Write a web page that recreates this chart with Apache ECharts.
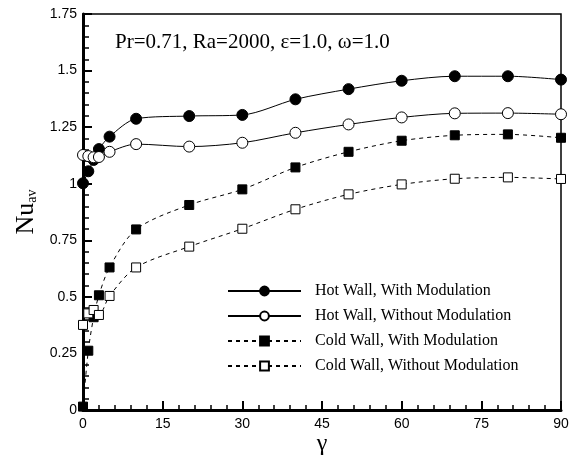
<!DOCTYPE html>
<html style="height: 100%">
<head>
<meta charset="utf-8">
</head>
<body style="height: 100%; margin: 0; background: #fff">
<div id="container" style="width: 573px; height: 459px"></div>
<script src="https://cdn.jsdelivr.net/npm/echarts@6/dist/echarts.min.js"></script>
<script type="text/javascript">
// gamma values (x) and Nu_av for the four curves
var gamma = [0, 1, 2, 3, 5, 10, 20, 30, 40, 50, 60, 70, 80, 90];
var hotWith = [1.002, 1.055, 1.105, 1.153, 1.208, 1.287, 1.299, 1.304, 1.373, 1.418, 1.455, 1.475, 1.475, 1.46];
var hotWithout = [1.127, 1.122, 1.117, 1.118, 1.141, 1.175, 1.164, 1.181, 1.225, 1.262, 1.293, 1.311, 1.312, 1.307];
var coldWith = [0.015, 0.262, 0.41, 0.507, 0.63, 0.798, 0.906, 0.975, 1.072, 1.141, 1.19, 1.214, 1.218, 1.203];
var coldWithout = [0.376, 0.427, 0.442, 0.42, 0.504, 0.63, 0.722, 0.801, 0.887, 0.953, 0.997, 1.022, 1.028, 1.021];
var names = ['Hot Wall, With Modulation', 'Hot Wall, Without Modulation',
             'Cold Wall, With Modulation', 'Cold Wall, Without Modulation'];

function pairs(ys) {
    return gamma.map(function (g, i) { return [g, ys[i]]; });
}

function makeSeries(name, ys, symbol, size, filled, dashed) {
    return {
        name: name,
        type: 'line',
        data: pairs(ys),
        smooth: 0.3,
        clip: false,
        symbol: symbol,
        symbolSize: size,
        showAllSymbol: true,
        lineStyle: { color: '#000', width: 1, type: dashed ? [4, 4] : 'solid' },
        itemStyle: { color: filled ? '#000' : '#fff', borderColor: '#000', borderWidth: 1 },
        emphasis: { disabled: true }
    };
}

var dom = document.getElementById('container');
var myChart = echarts.init(dom);
var option = {
    animation: false,
    backgroundColor: '#fff',
    title: {
        text: 'Pr=0.71, Ra=2000, ε=1.0, ω=1.0',
        left: 110,
        top: 27,
        textStyle: { fontFamily: 'Liberation Serif', fontWeight: 'normal', fontSize: 21, color: '#000' }
    },
    grid: {
        left: 83, right: 12, top: 14, bottom: 49,
        outerBoundsMode: 'none',
        containLabel: false,
        show: true, borderColor: '#000', borderWidth: 1.5
    },
    legend: {
        orient: 'vertical',
        left: 222,
        top: 278,
        itemWidth: 73,
        itemHeight: 11,
        itemGap: 9,
        data: names,
        textStyle: { fontFamily: 'Liberation Serif', fontSize: 16, color: '#000', lineHeight: 16, padding: [0, 0, 0, 9] }
    },
    xAxis: {
        type: 'value',
        min: 0, max: 90, interval: 15,
        name: 'γ',
        nameLocation: 'middle',
        nameGap: 22,
        nameMoveOverlap: false,
        nameTextStyle: { fontFamily: 'Liberation Serif', fontSize: 24, color: '#000' },
        axisLine: { lineStyle: { color: '#000', width: 3 } },
        axisTick: { inside: true, length: 9, lineStyle: { color: '#000', width: 2 } },
        minorTick: { show: true, splitNumber: 5, length: 5, lineStyle: { color: '#000', width: 1.5 } },
        axisLabel: { fontFamily: 'Liberation Sans', fontSize: 14, color: '#000', margin: 7 },
        splitLine: { show: false }
    },
    yAxis: {
        type: 'value',
        min: 0, max: 1.75, interval: 0.25,
        name: '{a|Nu}{b|av}',
        nameLocation: 'middle',
        nameRotate: 90,
        nameGap: 32,
        nameTextStyle: {
            rich: {
                a: { fontFamily: 'Liberation Serif', fontSize: 26, color: '#000', lineHeight: 24, verticalAlign: 'top' },
                b: { fontFamily: 'Liberation Serif', fontSize: 14, color: '#000', lineHeight: 38 }
            }
        },
        axisLine: { lineStyle: { color: '#000', width: 3 } },
        axisTick: { inside: true, length: 9, lineStyle: { color: '#000', width: 2 } },
        minorTick: { show: true, splitNumber: 5, length: 6, lineStyle: { color: '#000', width: 1.5 } },
        axisLabel: {
            fontFamily: 'Liberation Sans', fontSize: 14, color: '#000', margin: 6,
            formatter: function (v) { return v === 0 ? '0' : v === 1 ? '1' : String(v); }
        },
        splitLine: { show: false }
    },
    series: [
        makeSeries(names[0], hotWith, 'circle', 11, true, false),
        makeSeries(names[1], hotWithout, 'circle', 11, false, false),
        makeSeries(names[2], coldWith, 'rect', 9, true, true),
        makeSeries(names[3], coldWithout, 'rect', 9, false, true)
    ]
};
myChart.setOption(option);
</script>
</body>
</html>
